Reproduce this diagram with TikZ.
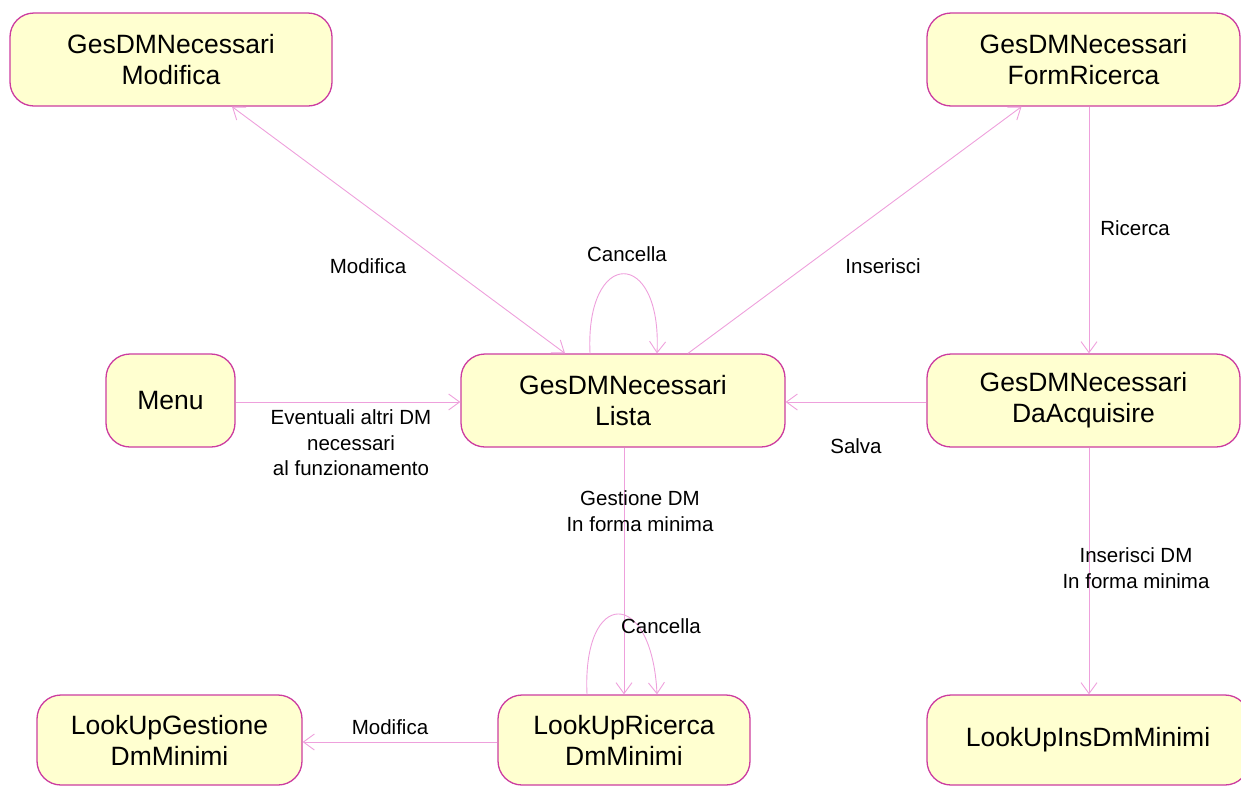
\documentclass[tikz,border=0pt]{standalone}
\usepackage{fontspec}
\setmainfont{Liberation Sans}
\usetikzlibrary{arrows.meta}
\definecolor{stborder}{RGB}{204,60,160}
\definecolor{stfill}{RGB}{255,255,208}
\definecolor{conn}{RGB}{238,160,220}
\tikzset{
  state/.style={draw=stborder, fill=stfill, line width=1.3pt, rounded corners=24pt,
    rectangle, inner sep=0pt, align=center, font=\fontsize{26.5}{31}\selectfont},
  lbl/.style={align=center, font=\fontsize{20.5}{25.5}\selectfont, inner sep=0pt},
  tr/.style={draw=conn, line width=0.9pt, -{Straight Barb[length=11pt,width=16pt]}},
}
\begin{document}
\begin{tikzpicture}[x=1pt,y=-1pt]
\useasboundingbox (0,0) rectangle (1241,785);
\clip (0,0) rectangle (1241,785);
% states
\node[state, minimum width=322pt, minimum height=93pt] (mod) at (171,59.5) {GesDMNecessari\\Modifica};
\node[state, minimum width=313pt, minimum height=93pt] (fr) at (1083.5,59.5) {GesDMNecessari\\FormRicerca};
\node[state, minimum width=129pt, minimum height=93pt] (menu) at (170.5,400.5) {Menu};
\node[state, minimum width=324pt, minimum height=93pt] (lista) at (623,400.5) {GesDMNecessari\\Lista};
\node[state, minimum width=313pt, minimum height=93pt] (da) at (1083.5,400.5) {GesDMNecessari\\DaAcquisire};
\node[state, minimum width=265pt, minimum height=90pt] (lg) at (169.5,740) {LookUpGestione\\DmMinimi};
\node[state, minimum width=252pt, minimum height=90pt] (lr) at (624,740) {LookUpRicerca\\DmMinimi};
\node[state, minimum width=322pt, minimum height=90pt] (lui) at (1088,740) {LookUpInsDmMinimi};
% transitions
\draw[tr, {Straight Barb[length=11pt,width=16pt]}-{Straight Barb[length=11pt,width=16pt]}] ([xshift=-58pt]lista.north) -- ([xshift=61pt]mod.south);
\draw[tr] ([xshift=65pt]lista.north) -- ([xshift=-62pt]fr.south);
\draw[tr] ([xshift=5.5pt]fr.south) -- ([xshift=5.5pt]da.north);
\draw[tr] ([yshift=-1.5pt]da.west) -- ([yshift=-1.5pt]lista.east);
\draw[tr] ([yshift=-1.5pt]menu.east) -- ([yshift=-1.5pt]lista.west);
\draw[tr] ([xshift=-33pt]lista.north) .. controls ([xshift=-38pt,yshift=106pt]lista.north) and ([xshift=39pt,yshift=106pt]lista.north) .. ([xshift=34pt]lista.north);
\draw[tr] ([xshift=1pt]lista.south) -- (lr.north);
\draw[tr] ([xshift=-37pt]lr.north) .. controls ([xshift=-42pt,yshift=107pt]lr.north) and ([xshift=28pt,yshift=107pt]lr.north) .. ([xshift=33pt]lr.north);
\draw[tr] ([yshift=-2pt]lr.west) -- ([yshift=-2pt]lg.east);
\draw[tr] ([xshift=5.5pt]da.south) -- ([xshift=1pt]lui.north);
% labels
\node[lbl] (l1) at (368,266) {Modifica};
\node[lbl] (l2) at (627,254) {Cancella};
\node[lbl] (l3) at (883,266) {Inserisci};
\node[lbl] (l4) at (1135,228) {Ricerca};
\node[lbl] (l5) at (856,446) {Salva};
\node[lbl] (l6) at (351,443) {Eventuali altri DM\\necessari\\al funzionamento};
\node[lbl] (l7) at (640,511) {Gestione DM\\In forma minima};
\node[lbl] (l8) at (661,626) {Cancella};
\node[lbl] (l9) at (390,727) {Modifica};
\node[lbl] (l10) at (1136,568) {Inserisci DM\\In forma minima};
\end{tikzpicture}
\end{document}
